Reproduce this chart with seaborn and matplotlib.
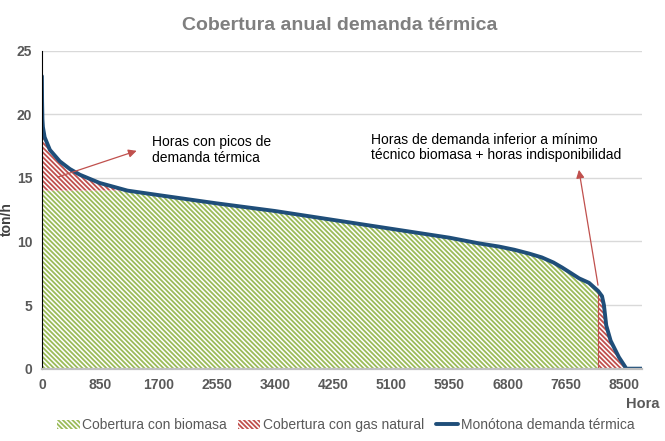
import numpy as np
import pandas as pd
import seaborn as sns
import matplotlib.pyplot as plt

# Monotona de demanda termica (horas ordenadas de mayor a menor demanda)
horas = [0, 3, 8, 15, 40, 117, 262, 408, 554, 845, 1250, 1700, 2550, 3400, 4250,
         5100, 5950, 6385, 6677, 6900, 7115, 7300, 7470, 7598, 7730, 7846, 7990,
         8125, 8180, 8208, 8242, 8306, 8427, 8500, 8535, 8760]
demanda = [23.0, 21.0, 19.6, 19.0, 18.2, 17.2, 16.3, 15.7, 15.25, 14.6, 14.0, 13.65,
           13.0, 12.4, 11.7, 11.0, 10.3, 9.85, 9.6, 9.35, 9.05, 8.75, 8.35, 7.95,
           7.5, 7.1, 6.75, 6.1, 5.7, 5.0, 3.4, 2.2, 0.9, 0.3, 0.0, 0.0]

maximo_biomasa = 14.0     # ton/h
hora_corte = 8125         # a partir de aqui, demanda < minimo tecnico / indisponibilidad

xticks = list(range(0, 8501, 850))
yticks = [0, 5, 10, 15, 20, 25]

df = pd.DataFrame({'Hora': horas, 'Demanda': demanda})
x = df['Hora'].to_numpy()
y = df['Demanda'].to_numpy()

sns.set_theme(style='white')
plt.rcParams['font.family'] = ['Liberation Sans', 'DejaVu Sans']
plt.rcParams['hatch.linewidth'] = 1.3
narrow = ['Liberation Sans Narrow', 'Liberation Sans', 'DejaVu Sans']

verde = '#9bbb59'
rojo = '#c0504d'
azul = '#1f4e79'
gris = '#595959'

fig = plt.figure(figsize=(6.65, 4.41), dpi=100)
ax = fig.add_axes([0.063, 0.164, 0.902, 0.721])

# Cobertura con biomasa
ax.fill_between(x, 0, np.minimum(y, maximo_biomasa), where=x <= hora_corte,
                facecolor='white', edgecolor=verde, hatch='\\\\\\\\\\\\\\', lw=0,
                label='Cobertura con biomasa')
# Cobertura con gas natural (picos y cola)
ax.fill_between(x, maximo_biomasa, y, where=y >= maximo_biomasa,
                facecolor='white', edgecolor=rojo, hatch='\\\\\\\\\\\\\\', lw=0,
                label='Cobertura con gas natural')
ax.fill_between(x, 0, y, where=x >= hora_corte,
                facecolor='white', edgecolor=rojo, hatch='\\\\\\\\\\\\\\', lw=0)
ax.plot([hora_corte, hora_corte], [0, y[horas.index(hora_corte)]], color=rojo, lw=0.8)

sns.lineplot(data=df, x='Hora', y='Demanda', ax=ax, color=azul, lw=2.8,
             label='Monótona demanda térmica', legend=False, sort=False)

ax.set_xlim(0, 8760)
ax.set_ylim(0, 25)
ax.set_xticks(xticks)
ax.set_yticks(yticks)
ax.grid(axis='y', color='#d9d9d9', lw=1)
ax.set_axisbelow(True)
for s in ['top', 'right']:
    ax.spines[s].set_visible(False)
ax.spines['left'].set_color('black')
ax.spines['left'].set_linewidth(0.8)
ax.spines['bottom'].set_color('#bfbfbf')
ax.spines['bottom'].set_linewidth(1.6)
ax.tick_params(length=0, pad=7, labelcolor=gris)
for lab in ax.get_xticklabels() + ax.get_yticklabels():
    lab.set_family(narrow)
    lab.set_fontweight('bold')
    lab.set_fontsize(10)

ax.set_ylabel('ton/h', fontweight='bold', fontsize=10, color='#404040')
ax.yaxis.set_label_coords(-0.046, 0.47)
ax.set_xlabel('Hora', fontweight='bold', fontsize=10.5, color=gris, family=narrow)
ax.xaxis.set_label_coords(1.002, -0.09)

# Anotaciones
ax.annotate('', xy=(1422, 17.2), xytext=(194, 15.0),
            arrowprops=dict(arrowstyle='-|>', color=rojo, lw=0.9, mutation_scale=12))
ax.text(1612, 17.2, 'Horas con picos de\ndemanda térmica', fontsize=10,
        va='center', ha='left', color='black', linespacing=1.15)
ax.annotate('', xy=(7836, 15.85), xytext=(8128, 6.35),
            arrowprops=dict(arrowstyle='-|>', color=rojo, lw=0.9, mutation_scale=12))
ax.text(4808, 17.4, 'Horas de demanda inferior a mínimo\ntécnico biomasa + horas indisponibilidad',
        fontsize=10, va='center', ha='left', color='black', linespacing=1.15)

fig.suptitle('Cobertura anual demanda térmica', x=0.511, y=0.943, va='center',
             fontsize=14, fontweight='bold', color='#7f7f7f', family=narrow)

h, l = ax.get_legend_handles_labels()
fig.legend(h, l, loc='center', bbox_to_anchor=(0.52, 0.036), ncol=3, frameon=False,
           fontsize=10, labelcolor=gris, handlelength=1.6, handleheight=0.6,
           handletextpad=0.2, columnspacing=0.8)

fig.savefig('out.png', dpi=100)
